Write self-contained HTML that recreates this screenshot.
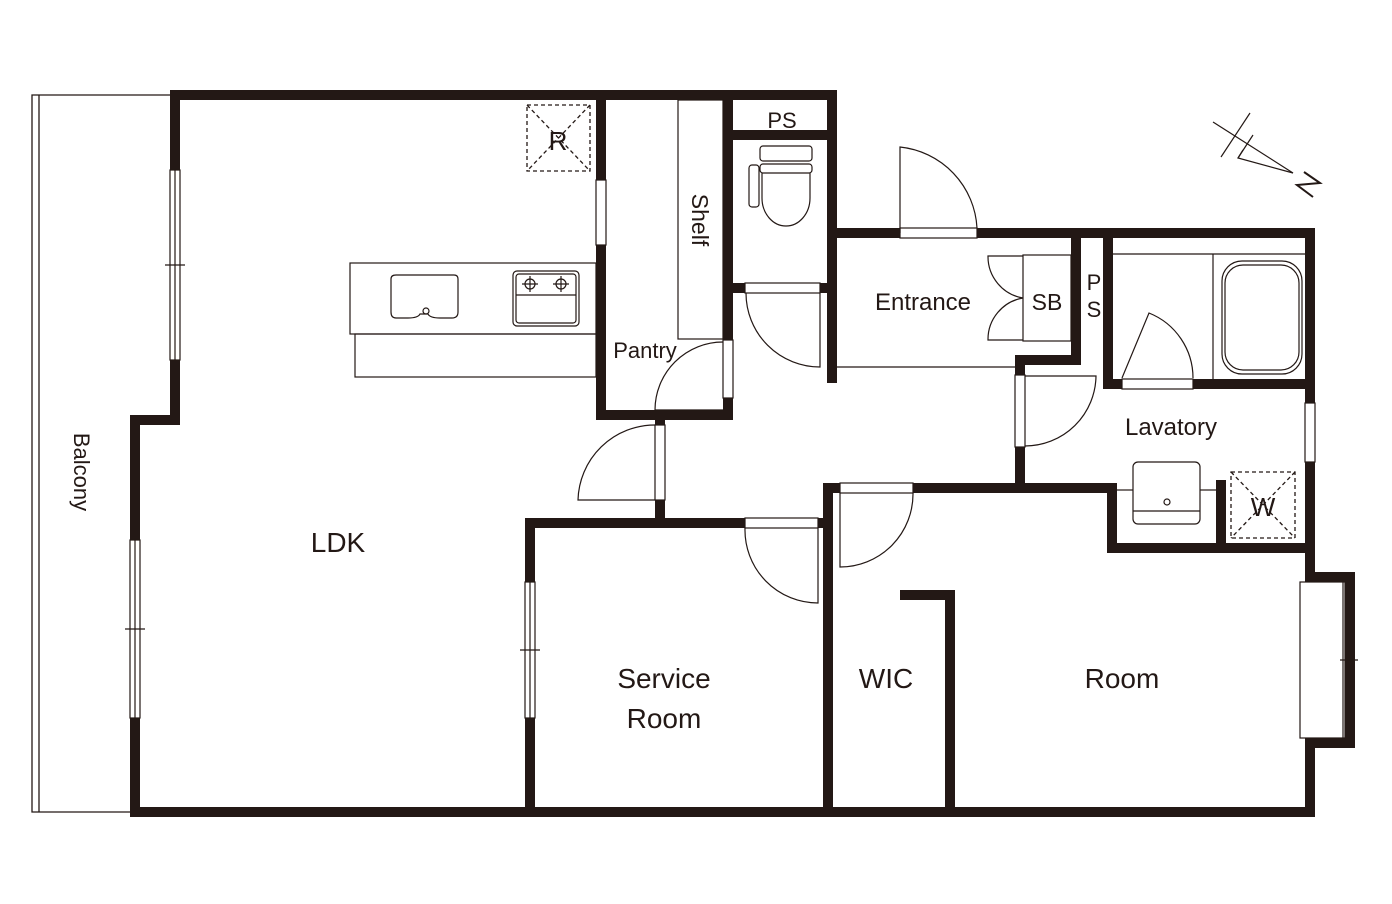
<!DOCTYPE html>
<html><head><meta charset="utf-8"><style>
html,body{margin:0;padding:0;background:#fff;}
svg{display:block;}
text{font-family:"Liberation Sans","DejaVu Sans",sans-serif;fill:#231815;}
</style></head><body>
<svg width="1392" height="904" viewBox="0 0 1392 904" xmlns="http://www.w3.org/2000/svg">
<g fill="none" stroke="#231815" stroke-width="1.3">
<!-- balcony -->
<path d="M170 95 H32 V812 H130"/>
<line x1="39" y1="95" x2="39" y2="812"/>
</g>
<!-- walls -->
<g fill="#231815">
<rect x="170" y="90" width="667" height="10"/>
<rect x="170" y="90" width="10" height="80"/>
<rect x="170" y="360" width="10" height="65"/>
<rect x="130" y="415" width="50" height="10"/>
<rect x="130" y="415" width="10" height="125"/>
<rect x="130" y="718" width="10" height="99"/>
<rect x="130" y="807" width="1185" height="10"/>
<rect x="1305" y="228" width="10" height="175"/>
<rect x="1305" y="462" width="10" height="120"/>
<rect x="1305" y="572" width="50" height="10"/>
<rect x="1345" y="572" width="10" height="176"/>
<rect x="1305" y="738" width="50" height="10"/>
<rect x="1305" y="738" width="10" height="79"/>
<rect x="827" y="228" width="73" height="10"/>
<rect x="977" y="228" width="338" height="10"/>
<rect x="827" y="90" width="10" height="293"/>
<rect x="596" y="95" width="10" height="85"/>
<rect x="596" y="245" width="10" height="175"/>
<rect x="596" y="410" width="137" height="10"/>
<rect x="723" y="95" width="10" height="245"/>
<rect x="723" y="398" width="10" height="22"/>
<rect x="733" y="130" width="94" height="10"/>
<rect x="733" y="283" width="12" height="10"/>
<rect x="820" y="283" width="10" height="10"/>
<rect x="1071" y="233" width="10" height="122"/>
<rect x="1103" y="233" width="10" height="155"/>
<rect x="1015" y="355" width="66" height="10"/>
<rect x="1015" y="355" width="10" height="20"/>
<rect x="1015" y="447" width="10" height="46"/>
<rect x="1103" y="379" width="19" height="10"/>
<rect x="1193" y="379" width="122" height="10"/>
<rect x="823" y="483" width="17" height="10"/>
<rect x="913" y="483" width="204" height="10"/>
<rect x="1107" y="483" width="10" height="70"/>
<rect x="1107" y="543" width="208" height="10"/>
<rect x="1216" y="480" width="10" height="68"/>
<rect x="823" y="483" width="10" height="334"/>
<rect x="945" y="590" width="10" height="227"/>
<rect x="900" y="590" width="55" height="10"/>
<rect x="525" y="518" width="220" height="10"/>
<rect x="818" y="518" width="10" height="10"/>
<rect x="525" y="518" width="10" height="64"/>
<rect x="525" y="718" width="10" height="99"/>
<rect x="655" y="500" width="10" height="28"/>
<rect x="655" y="420" width="10" height="5"/>
</g>
<g fill="none" stroke="#231815" stroke-width="1.2">
<rect x="170" y="170" width="10" height="190"/><line x1="175" y1="170" x2="175" y2="360"/><line x1="165" y1="265" x2="185" y2="265"/>
<rect x="130" y="540" width="10" height="178"/><line x1="135" y1="540" x2="135" y2="718"/><line x1="125" y1="629" x2="145" y2="629"/>
<rect x="525" y="582" width="10" height="136"/><line x1="530" y1="582" x2="530" y2="718"/><line x1="520" y1="650" x2="540" y2="650"/>
<rect x="596" y="180" width="10" height="65"/>
<rect x="1305" y="403" width="10" height="59"/>
<rect x="1300" y="582" width="45" height="156"/><line x1="1343" y1="582" x2="1343" y2="738"/><line x1="1340" y1="660" x2="1358" y2="660"/>
<rect x="900" y="228" width="77" height="10"/>
<rect x="745" y="283" width="75" height="10"/>
<rect x="723" y="340" width="10" height="58"/>
<rect x="655" y="425" width="10" height="75"/>
<rect x="745" y="518" width="73" height="10"/>
<rect x="840" y="483" width="73" height="10"/>
<rect x="1015" y="375" width="10" height="72"/>
<rect x="1122" y="379" width="71" height="10"/>
<path d="M900 233 V147 A86 86 0 0 1 977 228"/>
<path d="M820 293 V367 A74 74 0 0 1 746 293"/>
<path d="M723 410 H655 A68 68 0 0 1 723 342"/>
<path d="M655 500 H578 A77 77 0 0 1 655 425"/>
<path d="M818 528 V603 A73 73 0 0 1 745 528"/>
<path d="M840 493 V567 A73 73 0 0 0 913 493"/>
<path d="M1025 376 H1096 A71 71 0 0 1 1025 446"/>
<path d="M1122 378 L1149 313 A70 70 0 0 1 1193 378"/>
<path d="M1023 256 H988 A42 42 0 0 0 1023 298 A42 42 0 0 0 988 340 H1023"/>
<rect x="1023" y="255" width="48" height="86"/>
<line x1="837" y1="367" x2="1015" y2="367"/>
<rect x="678" y="100" width="45" height="239"/>
<rect x="350" y="263" width="246" height="71"/>
<rect x="355" y="334" width="241" height="43"/>
<path d="M396 275 H454 Q458 275 458 279 V312 Q458 318 452 318 H440 Q430 318 428 314 H420 Q418 318 408 318 H396 Q391 318 391 312 V279 Q391 275 396 275 Z"/>
<circle cx="426" cy="311" r="3"/>
<rect x="513" y="271" width="66" height="55" rx="4"/>
<rect x="516" y="274" width="60" height="49" rx="3"/>
<line x1="516" y1="295" x2="576" y2="295"/>
<circle cx="530" cy="284" r="5"/><circle cx="561" cy="284" r="5"/>
<path d="M522 284H538M530 276V292M553 284H569M561 276V292"/>
<rect x="760" y="146" width="52" height="15" rx="3"/>
<rect x="760" y="164" width="52" height="9" rx="3"/>
<rect x="749" y="165" width="10" height="42" rx="3"/>
<path d="M762 173 V198 A24 28 0 0 0 810 198 V173"/>
<line x1="1113" y1="254" x2="1305" y2="254"/>
<line x1="1213" y1="254" x2="1213" y2="379"/>
<rect x="1222" y="261" width="80" height="113" rx="20"/>
<rect x="1225" y="265" width="74" height="105" rx="18"/>
<rect x="1133" y="462" width="67" height="62" rx="5"/>
<line x1="1133" y1="511" x2="1200" y2="511"/>
<circle cx="1167" cy="502" r="3"/>
<line x1="1117" y1="490" x2="1133" y2="490"/><line x1="1200" y1="490" x2="1216" y2="490"/>
<line x1="1213" y1="122" x2="1293" y2="173"/>
<line x1="1250" y1="113" x2="1221" y2="157"/>
<line x1="1253" y1="135" x2="1238" y2="158"/>
<polyline points="1243,150 1238,158 1293,173"/>
<polyline points="1304,172 1320,183 1297,185 1313,197" stroke-width="2"/>
</g>
<g fill="none" stroke="#231815" stroke-width="1.3" stroke-dasharray="4 3">
<rect x="527" y="105" width="63" height="66"/>
<path d="M527 105 L590 171 M590 105 L527 171"/>
<rect x="1231" y="472" width="64" height="66"/>
<path d="M1231 472 L1295 538 M1295 472 L1231 538"/>
</g>
<g text-anchor="middle">
<text x="558" y="150" font-size="26">R</text>
<text x="1263" y="516" font-size="26">W</text>
<text x="782" y="128" font-size="22">PS</text>
<text x="923" y="310" font-size="24">Entrance</text>
<text x="1047" y="310" font-size="23">SB</text>
<text x="1094" y="290" font-size="22">P</text>
<text x="1094" y="317" font-size="22">S</text>
<text x="645" y="358" font-size="22">Pantry</text>
<text x="1171" y="435" font-size="24">Lavatory</text>
<text x="338" y="552" font-size="28">LDK</text>
<text x="664" y="688" font-size="28">Service</text>
<text x="664" y="728" font-size="28">Room</text>
<text x="886" y="688" font-size="28">WIC</text>
<text x="1122" y="688" font-size="28">Room</text>
<text transform="translate(692,220) rotate(90)" font-size="23">Shelf</text>
<text transform="translate(74,472) rotate(90)" font-size="22">Balcony</text>
</g>
</svg>
</body></html>
